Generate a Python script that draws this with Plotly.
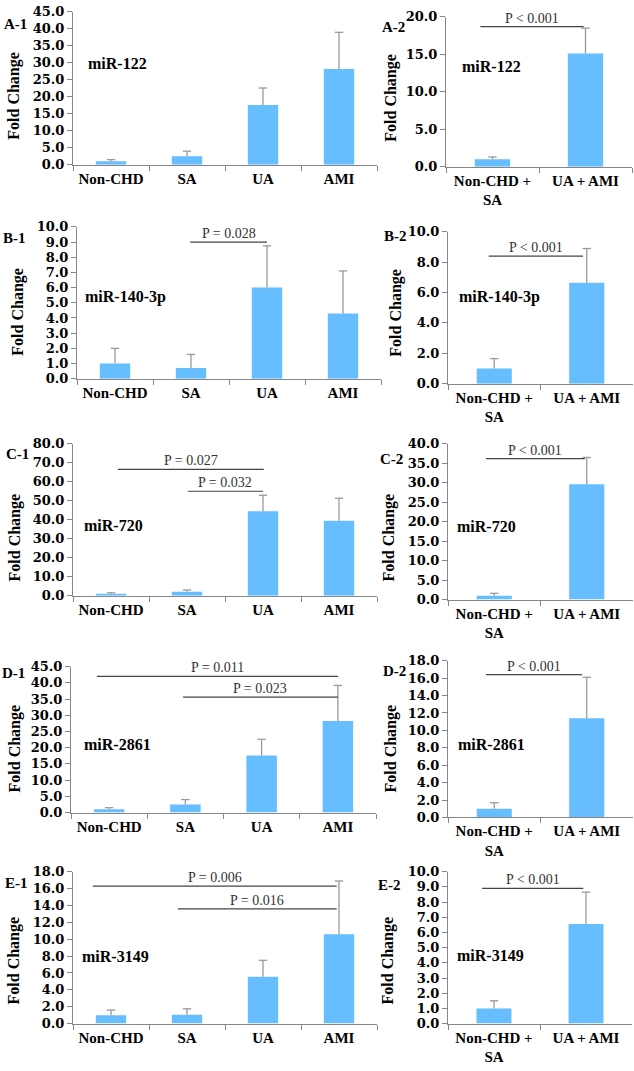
import plotly.graph_objects as go

# ---------------- data ----------------
cats4 = ["Non-CHD", "SA", "UA", "AMI"]
cats2 = ["Non-CHD +<br>SA", "UA + AMI"]

a1_vals = [1.0, 2.5, 17.6, 28.2]
a1_err = [0.5, 1.5, 5.0, 10.8]
a2_vals = [1.0, 15.1]
a2_err = [0.3, 3.4]

b1_vals = [1.0, 0.7, 6.0, 4.3]
b1_err = [1.0, 0.9, 2.75, 2.8]
b2_vals = [1.0, 6.65]
b2_err = [0.65, 2.25]

c1_vals = [1.0, 2.0, 44.5, 39.5]
c1_err = [0.5, 1.0, 8.4, 11.8]
c2_vals = [1.0, 29.6]
c2_err = [0.6, 6.9]

d1_vals = [1.0, 2.5, 17.6, 28.2]
d1_err = [0.5, 1.5, 5.0, 11.0]
d2_vals = [1.0, 11.4]
d2_err = [0.7, 4.7]

e1_vals = [1.0, 1.05, 5.55, 10.6]
e1_err = [0.6, 0.7, 1.95, 6.3]
e2_vals = [1.0, 6.55]
e2_err = [0.5, 2.1]

panel_ids = ["A-1", "A-2", "B-1", "B-2", "C-1", "C-2", "D-1", "D-2", "E-1", "E-2"]
mirnas = ["miR-122", "miR-122", "miR-140-3p", "miR-140-3p", "miR-720", "miR-720",
          "miR-2861", "miR-2861", "miR-3149", "miR-3149"]
y_max = [45, 20, 10, 10, 80, 40, 45, 18, 18, 10]
y_step = [5, 5, 1, 2, 10, 5, 5, 2, 2, 1]

# significance comparisons: (start index, end index, height, label)
a1_p = []
a2_p = [(-0.13, 0.98, 18.7, "P < 0.001")]
b1_p = [(0.99, 2.0, 9.0, "P = 0.028")]
b2_p = [(-0.06, 0.96, 8.4, "P < 0.001")]
c1_p = [(0.09, 2.01, 66.5, "P = 0.027"), (1.01, 2.0, 55.0, "P = 0.032")]
c2_p = [(-0.09, 0.98, 36.2, "P < 0.001")]
d1_p = [(-0.16, 3.0, 42.0, "P = 0.011"), (0.97, 3.0, 35.6, "P = 0.023")]
d2_p = [(-0.09, 0.95, 16.4, "P < 0.001")]
e1_p = [(-0.24, 2.97, 16.3, "P = 0.006"), (0.88, 2.97, 13.6, "P = 0.016")]
e2_p = [(-0.13, 0.97, 8.9, "P < 0.001")]

vals = [a1_vals, a2_vals, b1_vals, b2_vals, c1_vals, c2_vals, d1_vals, d2_vals, e1_vals, e2_vals]
errs = [a1_err, a2_err, b1_err, b2_err, c1_err, c2_err, d1_err, d2_err, e1_err, e2_err]
comps = [a1_p, a2_p, b1_p, b2_p, c1_p, c2_p, d1_p, d2_p, e1_p, e2_p]

# ---------------- layout geometry (pixels) ----------------
W, H = 634, 1071
# x0, x1, ytop, ybottom of each plot area
geom = [
    (73, 377, 5, 160), (446, 632, 10, 162),
    (77, 381, 223, 377), (448, 633, 228, 382),
    (73, 377, 443, 597), (448, 633, 443, 601),
    (71, 376, 669, 817), (448, 633, 663, 822),
    (73, 377, 877, 1031), (448, 632, 877, 1031),
]
id_pos = [(15, 17), (393, 20), (14, 234), (395, 232), (17, 453), (391, 458),
          (13, 675), (394, 673), (16, 888), (390, 890)]
mir_pos = [(86, 57), (460, 60), (83, 294), (457, 294), (82, 526), (455, 527),
           (82, 748), (456, 748), (80, 963), (455, 962)]
ytitle_pos = [(14, 90), (391, 92), (18, 309), (396, 310), (15, 538), (389, 538),
              (15, 752), (391, 752), (14, 967), (388, 967)]


def fx(p):
    return p / W


def fy(p):
    return 1 - p / H


SERIF = "Liberation Serif"
BAR = "#66BEFF"
AXIS = "#868686"
ERR = "#9A9A9A"

fig = go.Figure()
layout = dict(
    width=W, height=H, margin=dict(l=0, r=0, t=0, b=0),
    paper_bgcolor="white", plot_bgcolor="white", showlegend=False,
    bargap=0.6,
)
annotations = []
shapes = []

for i in range(10):
    n = i + 1
    xa = "x" if n == 1 else f"x{n}"
    ya = "y" if n == 1 else f"y{n}"
    cats = cats4 if len(vals[i]) == 4 else cats2
    width = 0.4 if len(cats) == 4 else 0.38
    fig.add_trace(go.Bar(
        x=cats, y=vals[i], xaxis=xa, yaxis=ya, width=width,
        marker=dict(color=BAR, line=dict(width=0)),
        error_y=dict(type="data", array=errs[i], arrayminus=[0] * len(cats),
                     symmetric=False, color=ERR, thickness=1.3, width=0),
        hoverinfo="skip",
    ))
    # error-bar caps (top only)
    fig.add_trace(go.Scatter(
        x=cats, y=[v + e for v, e in zip(vals[i], errs[i])], xaxis=xa, yaxis=ya,
        mode="markers", marker=dict(symbol="line-ew", size=6,
                                    line=dict(color=ERR, width=1.3)),
        hoverinfo="skip", cliponaxis=False,
    ))
    x0, x1, yt, yb = geom[i]
    xkey = "xaxis" if n == 1 else f"xaxis{n}"
    ykey = "yaxis" if n == 1 else f"yaxis{n}"
    layout[xkey] = dict(
        domain=[fx(x0), fx(x1)], anchor=ya, type="category",
        categoryorder="array", categoryarray=cats,
        range=[-0.5, len(cats) - 0.5],
        tickson="boundaries", ticks="outside", ticklen=5, tickcolor=AXIS,
        showline=True, linecolor=AXIS, linewidth=1, showgrid=False,
        tickfont=dict(family=SERIF, size=15, color="black", weight="bold"),
        fixedrange=True,
    )
    layout[ykey] = dict(
        domain=[fy(yb), fy(yt)], anchor=xa, range=[0, y_max[i]],
        tick0=0, dtick=y_step[i], tickformat=".1f",
        ticks="outside", ticklen=5, tickcolor=AXIS,
        showline=True, linecolor=AXIS, linewidth=1, showgrid=False, zeroline=False,
        tickfont=dict(family="DejaVu Serif", size=13, color="black", weight="bold"),
        fixedrange=True,
    )
    # panel id
    annotations.append(dict(
        x=fx(id_pos[i][0]), y=fy(id_pos[i][1]), xref="paper", yref="paper",
        text=panel_ids[i], showarrow=False, xanchor="center", yanchor="middle",
        font=dict(family=SERIF, size=15, color="black", weight="bold"),
    ))
    # miRNA label
    annotations.append(dict(
        x=fx(mir_pos[i][0]), y=fy(mir_pos[i][1]), xref="paper", yref="paper",
        text=mirnas[i], showarrow=False, xanchor="left", yanchor="middle",
        font=dict(family=SERIF, size=16, color="black", weight="bold"),
    ))
    # y title
    annotations.append(dict(
        x=fx(ytitle_pos[i][0]), y=fy(ytitle_pos[i][1]), xref="paper", yref="paper",
        text="Fold Change", showarrow=False, textangle=-90,
        xanchor="center", yanchor="middle",
        font=dict(family=SERIF, size=16, color="black", weight="bold"),
    ))
    # significance
    for (s, e, h, lab) in comps[i]:
        shapes.append(dict(type="line", xref=xa, yref=ya, x0=s, x1=e, y0=h, y1=h,
                           line=dict(color="#444444", width=1.2)))
        annotations.append(dict(
            x=(s + e) / 2, y=h, xref=xa, yref=ya, text=lab, showarrow=False,
            xanchor="center", yanchor="bottom", yshift=-1,
            font=dict(family=SERIF, size=14, color="#333333"),
        ))

layout["annotations"] = annotations
layout["shapes"] = shapes
fig.update_layout(**layout)
fig.write_html(
    "out.html",
    config={"displayModeBar": False},
    post_script="document.body.style.margin='0';document.body.style.overflow='hidden';",
)
